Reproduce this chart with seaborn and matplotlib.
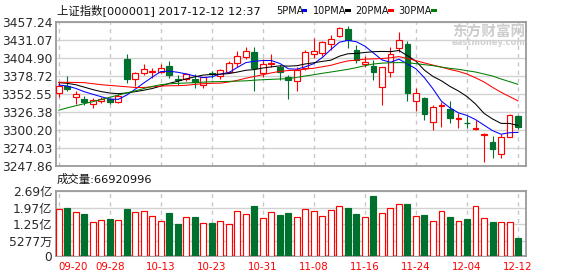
import numpy as np
import pandas as pd
import matplotlib
matplotlib.use("Agg")
import matplotlib.pyplot as plt
import seaborn as sns
from matplotlib.patches import Rectangle

# ---------------- data ----------------
dates = ["09-20", "09-21", "09-22", "09-25", "09-26", "09-27", "09-28", "09-29",
         "10-09", "10-10", "10-11", "10-12", "10-13", "10-16", "10-17", "10-18",
         "10-19", "10-20", "10-23", "10-24", "10-25", "10-26", "10-27", "10-30",
         "10-31", "11-01", "11-02", "11-03", "11-06", "11-07", "11-08", "11-09",
         "11-10", "11-13", "11-14", "11-15", "11-16", "11-17", "11-20", "11-21",
         "11-22", "11-23", "11-24", "11-27", "11-28", "11-29", "11-30", "12-01",
         "12-04", "12-05", "12-06", "12-07", "12-08", "12-11", "12-12"]

opens = [3353.6, 3363.6, 3347.8, 3345.3, 3337.6, 3342.0, 3344.9, 3341.4, 3402.8, 3373.8,
         3382.4, 3384.5, 3384.8, 3393.1, 3374.0, 3373.8, 3374.3, 3365.6, 3383.5, 3378.6,
         3384.8, 3397.9, 3405.6, 3412.9, 3382.4, 3396.0, 3392.1, 3377.6, 3371.4, 3389.7,
         3410.0, 3411.5, 3424.5, 3436.5, 3446.7, 3416.2, 3395.5, 3393.1, 3362.2, 3384.0,
         3418.7, 3424.9, 3342.4, 3347.2, 3312.4, 3335.5, 3330.4, 3316.5, 3310.5, 3302.0,
         3293.5, 3282.6, 3265.2, 3290.7, 3320.7]
highs = [3369.5, 3378.6, 3357.3, 3349.6, 3346.3, 3347.7, 3347.2, 3353.0, 3410.9, 3384.8,
         3395.5, 3390.0, 3396.0, 3400.3, 3380.0, 3382.4, 3381.0, 3377.6, 3386.0, 3389.0,
         3400.3, 3415.2, 3421.0, 3421.0, 3402.8, 3410.0, 3394.5, 3379.5, 3391.0, 3416.2,
         3434.1, 3430.0, 3437.9, 3450.0, 3451.5, 3424.0, 3407.0, 3401.8, 3392.1, 3421.0,
         3441.9, 3429.7, 3360.8, 3348.0, 3336.6, 3341.0, 3342.4, 3325.0, 3321.0, 3315.0,
         3295.5, 3292.2, 3294.2, 3323.1, 3321.5]
lows = [3347.7, 3356.9, 3338.1, 3336.2, 3332.7, 3339.9, 3337.6, 3339.0, 3368.0, 3364.0,
        3380.0, 3375.0, 3382.4, 3375.2, 3366.0, 3371.4, 3360.8, 3360.8, 3375.0, 3373.8,
        3382.4, 3392.1, 3402.8, 3357.3, 3376.7, 3392.1, 3372.8, 3346.0, 3357.3, 3387.3,
        3405.1, 3407.6, 3416.2, 3435.5, 3419.6, 3397.0, 3392.1, 3372.8, 3336.6, 3377.6,
        3413.8, 3342.9, 3328.4, 3314.9, 3300.0, 3305.2, 3310.0, 3303.0, 3303.0, 3301.0,
        3254.5, 3259.4, 3259.4, 3289.8, 3301.9]
closes = [3364.6, 3359.3, 3352.5, 3341.0, 3343.9, 3345.8, 3340.5, 3349.2, 3374.3, 3383.4,
          3388.3, 3385.5, 3389.7, 3380.0, 3372.5, 3381.5, 3369.4, 3376.7, 3381.5, 3387.3,
          3397.0, 3407.6, 3415.2, 3390.6, 3395.5, 3397.0, 3384.8, 3372.8, 3387.3, 3412.9,
          3414.8, 3427.4, 3431.7, 3448.6, 3430.7, 3401.8, 3399.0, 3384.0, 3391.2, 3410.0,
          3430.7, 3353.5, 3354.4, 3323.1, 3333.2, 3337.0, 3318.2, 3317.5, 3310.0, 3303.0,
          3295.0, 3272.9, 3289.8, 3322.1, 3304.3]

ma5 = [3365.6, 3364.1, 3360.7, 3355.9, 3352.2, 3348.6, 3345.2, 3344.8, 3351.0, 3359.5,
       3368.5, 3377.0, 3385.0, 3385.6, 3384.0, 3381.6, 3378.6, 3376.3, 3377.5, 3381.5,
       3383.5, 3391.0, 3398.0, 3400.0, 3401.0, 3401.0, 3396.8, 3389.0, 3388.5, 3392.0,
       3396.5, 3405.5, 3417.0, 3427.5, 3430.2, 3428.2, 3421.8, 3412.0, 3402.0, 3398.5,
       3403.0, 3396.0, 3389.0, 3376.0, 3360.0, 3342.0, 3332.5, 3325.2, 3321.5, 3315.5,
       3307.5, 3299.5, 3294.3, 3296.5, 3297.0]
ma10 = [3369.0, 3368.0, 3366.0, 3362.5, 3359.0, 3356.0, 3354.0, 3353.0, 3354.0, 3356.0,
        3358.0, 3360.5, 3364.0, 3368.0, 3371.0, 3374.5, 3377.4, 3380.0, 3380.8, 3381.2,
        3382.1, 3384.3, 3386.9, 3387.9, 3390.2, 3391.8, 3393.3, 3392.9, 3393.5, 3396.1,
        3397.8, 3399.8, 3401.5, 3407.3, 3410.8, 3411.3, 3412.7, 3413.8, 3414.2, 3413.9,
        3415.5, 3408.1, 3400.0, 3387.0, 3378.0, 3371.6, 3363.5, 3356.9, 3348.8, 3338.1,
        3324.5, 3316.4, 3310.0, 3309.9, 3307.0]
ma20 = [3369.5, 3369.5, 3369.2, 3369.0, 3367.5, 3366.0, 3365.0, 3364.0, 3363.0, 3362.0,
        3362.0, 3363.0, 3364.0, 3364.5, 3364.6, 3365.2, 3366.5, 3367.5, 3368.0, 3368.3,
        3369.9, 3372.3, 3375.4, 3377.9, 3380.5, 3383.1, 3385.3, 3386.5, 3387.1, 3388.6,
        3389.9, 3392.0, 3394.1, 3397.6, 3400.5, 3401.5, 3403.0, 3403.4, 3403.9, 3405.0,
        3406.7, 3404.0, 3400.9, 3397.5, 3394.4, 3391.4, 3388.1, 3385.3, 3381.5, 3376.0,
        3370.0, 3362.2, 3355.1, 3348.8, 3342.5]
ma30 = [3329.0, 3332.5, 3335.5, 3338.5, 3341.4, 3344.6, 3347.7, 3351.0, 3354.3, 3357.0,
        3360.5, 3363.5, 3366.0, 3367.3, 3368.0, 3368.5, 3369.0, 3369.7, 3370.3, 3370.5,
        3370.8, 3371.2, 3371.6, 3372.6, 3373.2, 3373.8, 3374.3, 3374.8, 3376.7, 3378.6,
        3380.5, 3382.5, 3384.4, 3386.3, 3388.3, 3390.7, 3393.5, 3396.0, 3397.2, 3397.8,
        3398.0, 3397.8, 3396.5, 3395.0, 3393.6, 3391.5, 3389.7, 3388.3, 3386.3, 3384.4,
        3381.5, 3378.6, 3374.3, 3370.4, 3366.5]

# volume in 亿 (100 million)
volumes = [1.907, 1.964, 1.776, 1.702, 1.341, 1.428, 1.485, 1.428, 1.920, 1.776,
           1.820, 1.616, 1.385, 1.746, 1.267, 1.559, 1.572, 1.298, 1.311, 1.385,
           1.267, 1.820, 1.702, 2.051, 1.515, 1.776, 1.672, 1.746, 1.559, 1.907,
           1.820, 1.602, 1.863, 2.051, 1.964, 1.702, 1.559, 2.486, 1.733, 1.950,
           2.124, 2.138, 1.616, 1.659, 1.385, 1.820, 1.572, 1.385, 1.485, 2.051,
           1.515, 1.367, 1.367, 1.341, 0.669]

price_ticks = [3457.24, 3431.07, 3404.90, 3378.72, 3352.55, 3326.38, 3300.20, 3274.03, 3247.86]
vol_tick_values = [0.5277, 1.25, 1.97, 2.69]
vol_tick_labels = ["5277万", "1.25亿", "1.97亿", "2.69亿"]
date_tick_step = 6
title_text = "上证指数[000001] 2017-12-12 12:37"
volume_text = "成交量:66920996"
ma_names = ["5PMA", "10PMA", "20PMA", "30PMA"]

# ---------------- style ----------------
sns.set_theme(style="white")
plt.rcParams["font.family"] = ["DejaVu Sans", "Noto Sans CJK SC"]

W, H = 578, 276
fig = plt.figure(figsize=(W / 100, H / 100), dpi=100)
fig.patch.set_facecolor("white")


def fx(px):
    return px / W


def fy(py):
    return 1 - py / H


L, R = 55.7, 525.7
ax = fig.add_axes([fx(L), fy(166.3), fx(R - L), (166.3 - 21.7) / H])
axv = fig.add_axes([fx(L), fy(255.7), fx(R - L), (255.7 - 191.3) / H])

RED = "#FF0000"
GREEN = "#00702E"
GRID = "#d2d2d2"
SPINE = "#9a9a9a"
TXT = "#2a2a2a"

n = len(dates)
x = np.arange(n)
o = np.array(opens)
c = np.array(closes)
hi = np.array(highs)
lo = np.array(lows)
up = c >= o
cols = np.where(up, RED, GREEN)
faces = np.where(up, "white", GREEN)

# ---- candles ----
ax.vlines(x, lo, hi, colors=cols, linewidth=0.8, zorder=2)
body_h = np.maximum(np.abs(c - o), 0.25)
ax.bar(x, body_h, bottom=np.minimum(o, c), width=0.68, color=faces,
       edgecolor=cols, linewidth=0.85, zorder=3)

# ---- moving averages (seaborn) ----
ma_df = pd.concat([
    pd.DataFrame({"idx": x, "value": vals, "ma": name})
    for name, vals in zip(ma_names, [ma5, ma10, ma20, ma30])
])
ma_colors = {"5PMA": "#0000FF", "10PMA": "#000000", "20PMA": "#FF0000", "30PMA": "#008000"}
sns.lineplot(data=ma_df, x="idx", y="value", hue="ma", palette=ma_colors,
             legend=False, ax=ax, linewidth=0.75, zorder=4, estimator=None)

ax.set_xlim(-0.35, n - 0.1)
ax.set_ylim(price_ticks[-1], price_ticks[0])
ax.set_yticks(price_ticks)
ax.set_yticklabels([f"{t:.2f}" for t in price_ticks])
tick_pos = x[::date_tick_step]
ax.set_xticks(tick_pos)
ax.set_xticklabels([])
ax.set_xlabel("")
ax.set_ylabel("")

# ---- volume ----
VB = -0.112
axv.bar(x, np.array(volumes) - VB, bottom=VB, width=0.7, color=faces,
        edgecolor=cols, linewidth=0.85, zorder=3)
axv.set_xlim(-0.35, n - 0.1)
axv.set_ylim(VB, 2.69)
axv.set_yticks([VB] + vol_tick_values)
axv.set_yticklabels(["0"] + vol_tick_labels)
axv.set_xticks(tick_pos)
axv.set_xticklabels([dates[i] for i in tick_pos])
labs = axv.get_xticklabels()
labs[0].set_horizontalalignment("left")

for a in (ax, axv):
    a.set_facecolor("white")
    a.grid(False)
    a.yaxis.grid(True, color=GRID, linewidth=1.0, linestyle="-", zorder=0)
    a.xaxis.grid(True, color="#c8c8c8", linewidth=1.0, linestyle=(0, (3, 3)), zorder=0)
    a.set_axisbelow(True)
    for s in a.spines.values():
        s.set_color(SPINE)
        s.set_linewidth(1.3)
    a.tick_params(axis="y", length=0, pad=2.5, labelsize=8.8, labelcolor=TXT)
    a.tick_params(axis="x", length=0, pad=4.5, labelsize=7.4, labelcolor=RED)

# ---- texts ----
fig.text(fx(57), fy(10.5), title_text, fontsize=8.2, color="#111111", va="center", ha="left")
legend_items = [(276, 301.7), (313.3, 345.0), (355.0, 388.3), (398.3, 431.0)]
for (tx, dx), name in zip(legend_items, ma_names):
    fig.text(fx(tx), fy(10.5), name, fontsize=7.0, color="#111111", va="center", ha="left")
    fig.patches.append(Rectangle((fx(dx), fy(12.2)), fx(5.6), 3.2 / H,
                                 transform=fig.transFigure, color=ma_colors[name], lw=0))

fig.text(fx(57), fy(179.5), volume_text, fontsize=8.2, color="#111111", va="center", ha="left")

# watermark
ax.text(fx(489), fy(31.5), "东方财富网", transform=fig.transFigure, fontsize=10.5,
        fontweight="bold", color="#cdcdcd", ha="center", va="center", zorder=1,
        family=["Noto Sans CJK SC"])
ax.text(fx(489), fy(42.5), "eastmoney.com", transform=fig.transFigure, fontsize=6.0,
        fontweight="bold", color="#d0d0d0", ha="center", va="center", zorder=1)

fig.savefig("out.png", dpi=100, facecolor="white")
